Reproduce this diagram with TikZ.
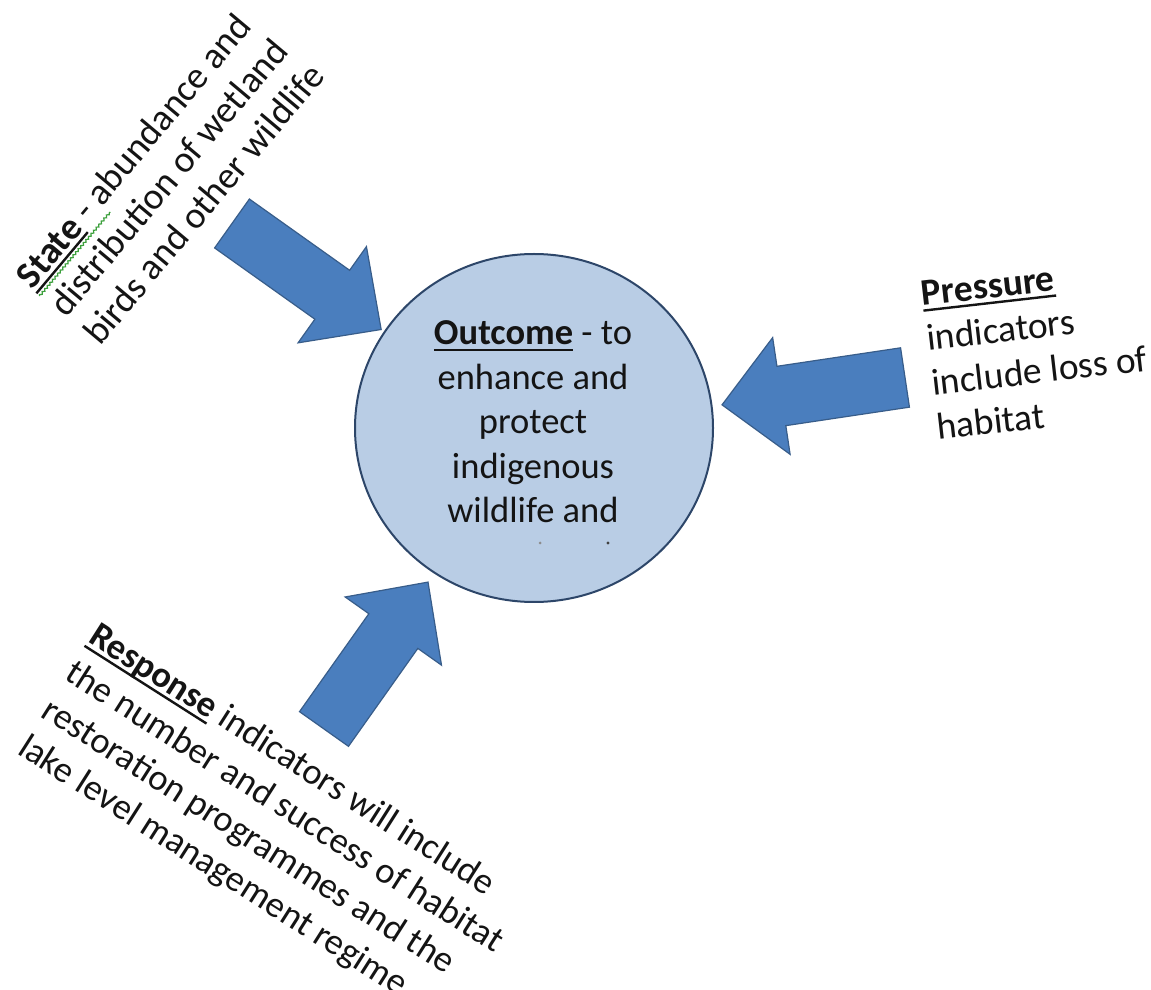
\documentclass[tikz,border=0pt]{standalone}
\usepackage{fontspec}
\setmainfont{Carlito}
\usetikzlibrary{shapes.geometric,decorations.pathmorphing}
\definecolor{arrowfill}{RGB}{74,126,190}
\definecolor{arrowline}{RGB}{56,93,138}
\definecolor{circfill}{RGB}{185,205,229}
\definecolor{circline}{RGB}{45,70,105}
\definecolor{txt}{RGB}{20,20,20}
\definecolor{spell}{RGB}{60,160,60}
\newcommand\myul[1]{\setbox0=\hbox{#1}\rlap{\rule[-6pt]{\wd0}{2.4pt}}\box0\relax}
\newcommand\blockarrow[3]{\draw[blockarrow, shift={(#1)}, rotate=#2] (0,30) -- (#3-60,30) -- (#3-60,59) -- (#3,0) -- (#3-60,-59) -- (#3-60,-30) -- (0,-30) -- cycle;}
\begin{document}
\begin{tikzpicture}[x=1pt,y=1pt,
  blockarrow/.style={fill=arrowfill, draw=arrowline, line width=1.2pt, line join=miter},
  lbl/.style={text=txt, inner sep=0pt, align=left}]
\fill[white] (0,0) rectangle (1151,989);
\useasboundingbox (0,0) rectangle (1151,989);
% central outcome
\node[ellipse, fill=circfill, draw=circline, line width=2pt, minimum width=358pt, minimum height=348pt, inner sep=0pt] (outcome) at (534,561) {};
\node[lbl, align=center, font=\fontsize{36.5}{44.5}\selectfont, anchor=base] (outtext) at (533,466)
  {\myul{\textbf{Outcome}} - to\\enhance and\\protect\\indigenous\\wildlife and};
\fill[black!45] (540,446) circle (1.5);
\fill[black!75] (608,446) circle (1.6);
% arrow tails
\coordinate (stateTail) at (232,765.5);
\coordinate (pressureTail) at (905,611.5);
\coordinate (responseTail) at (324,260);
\blockarrow{stateTail}{-35.4}{183}
\blockarrow{pressureTail}{188.5}{185}
\blockarrow{responseTail}{54.7}{180}
% labels (base anchor = baseline of the last line)
\node[lbl, font=\fontsize{37.5}{44}\selectfont, rotate=50, anchor=base west] (state) at (100,642)
  {\myul{\textbf{State}} - abundance and\\distribution of wetland\\birds and other wildlife};
\begin{scope}[shift={(state.base west)}, rotate=50]
  \draw[spell, line width=1.2pt, decorate, decoration={snake, amplitude=1pt, segment length=4pt}] (0,79) -- (110,79);
\end{scope}
\node[lbl, font=\fontsize{37.5}{45}\selectfont, rotate=6.5, anchor=base west] (pressure) at (938,549)
  {\myul{\textbf{Pressure}}\\indicators\\include loss of\\habitat};
\node[lbl, font=\fontsize{36.5}{44}\selectfont, rotate=-32.5, anchor=base west] (response) at (16,236)
  {\myul{\textbf{Response}} indicators will include\\the number and success of habitat\\restoration programmes and the\\lake level management regime};
\end{tikzpicture}
\end{document}
